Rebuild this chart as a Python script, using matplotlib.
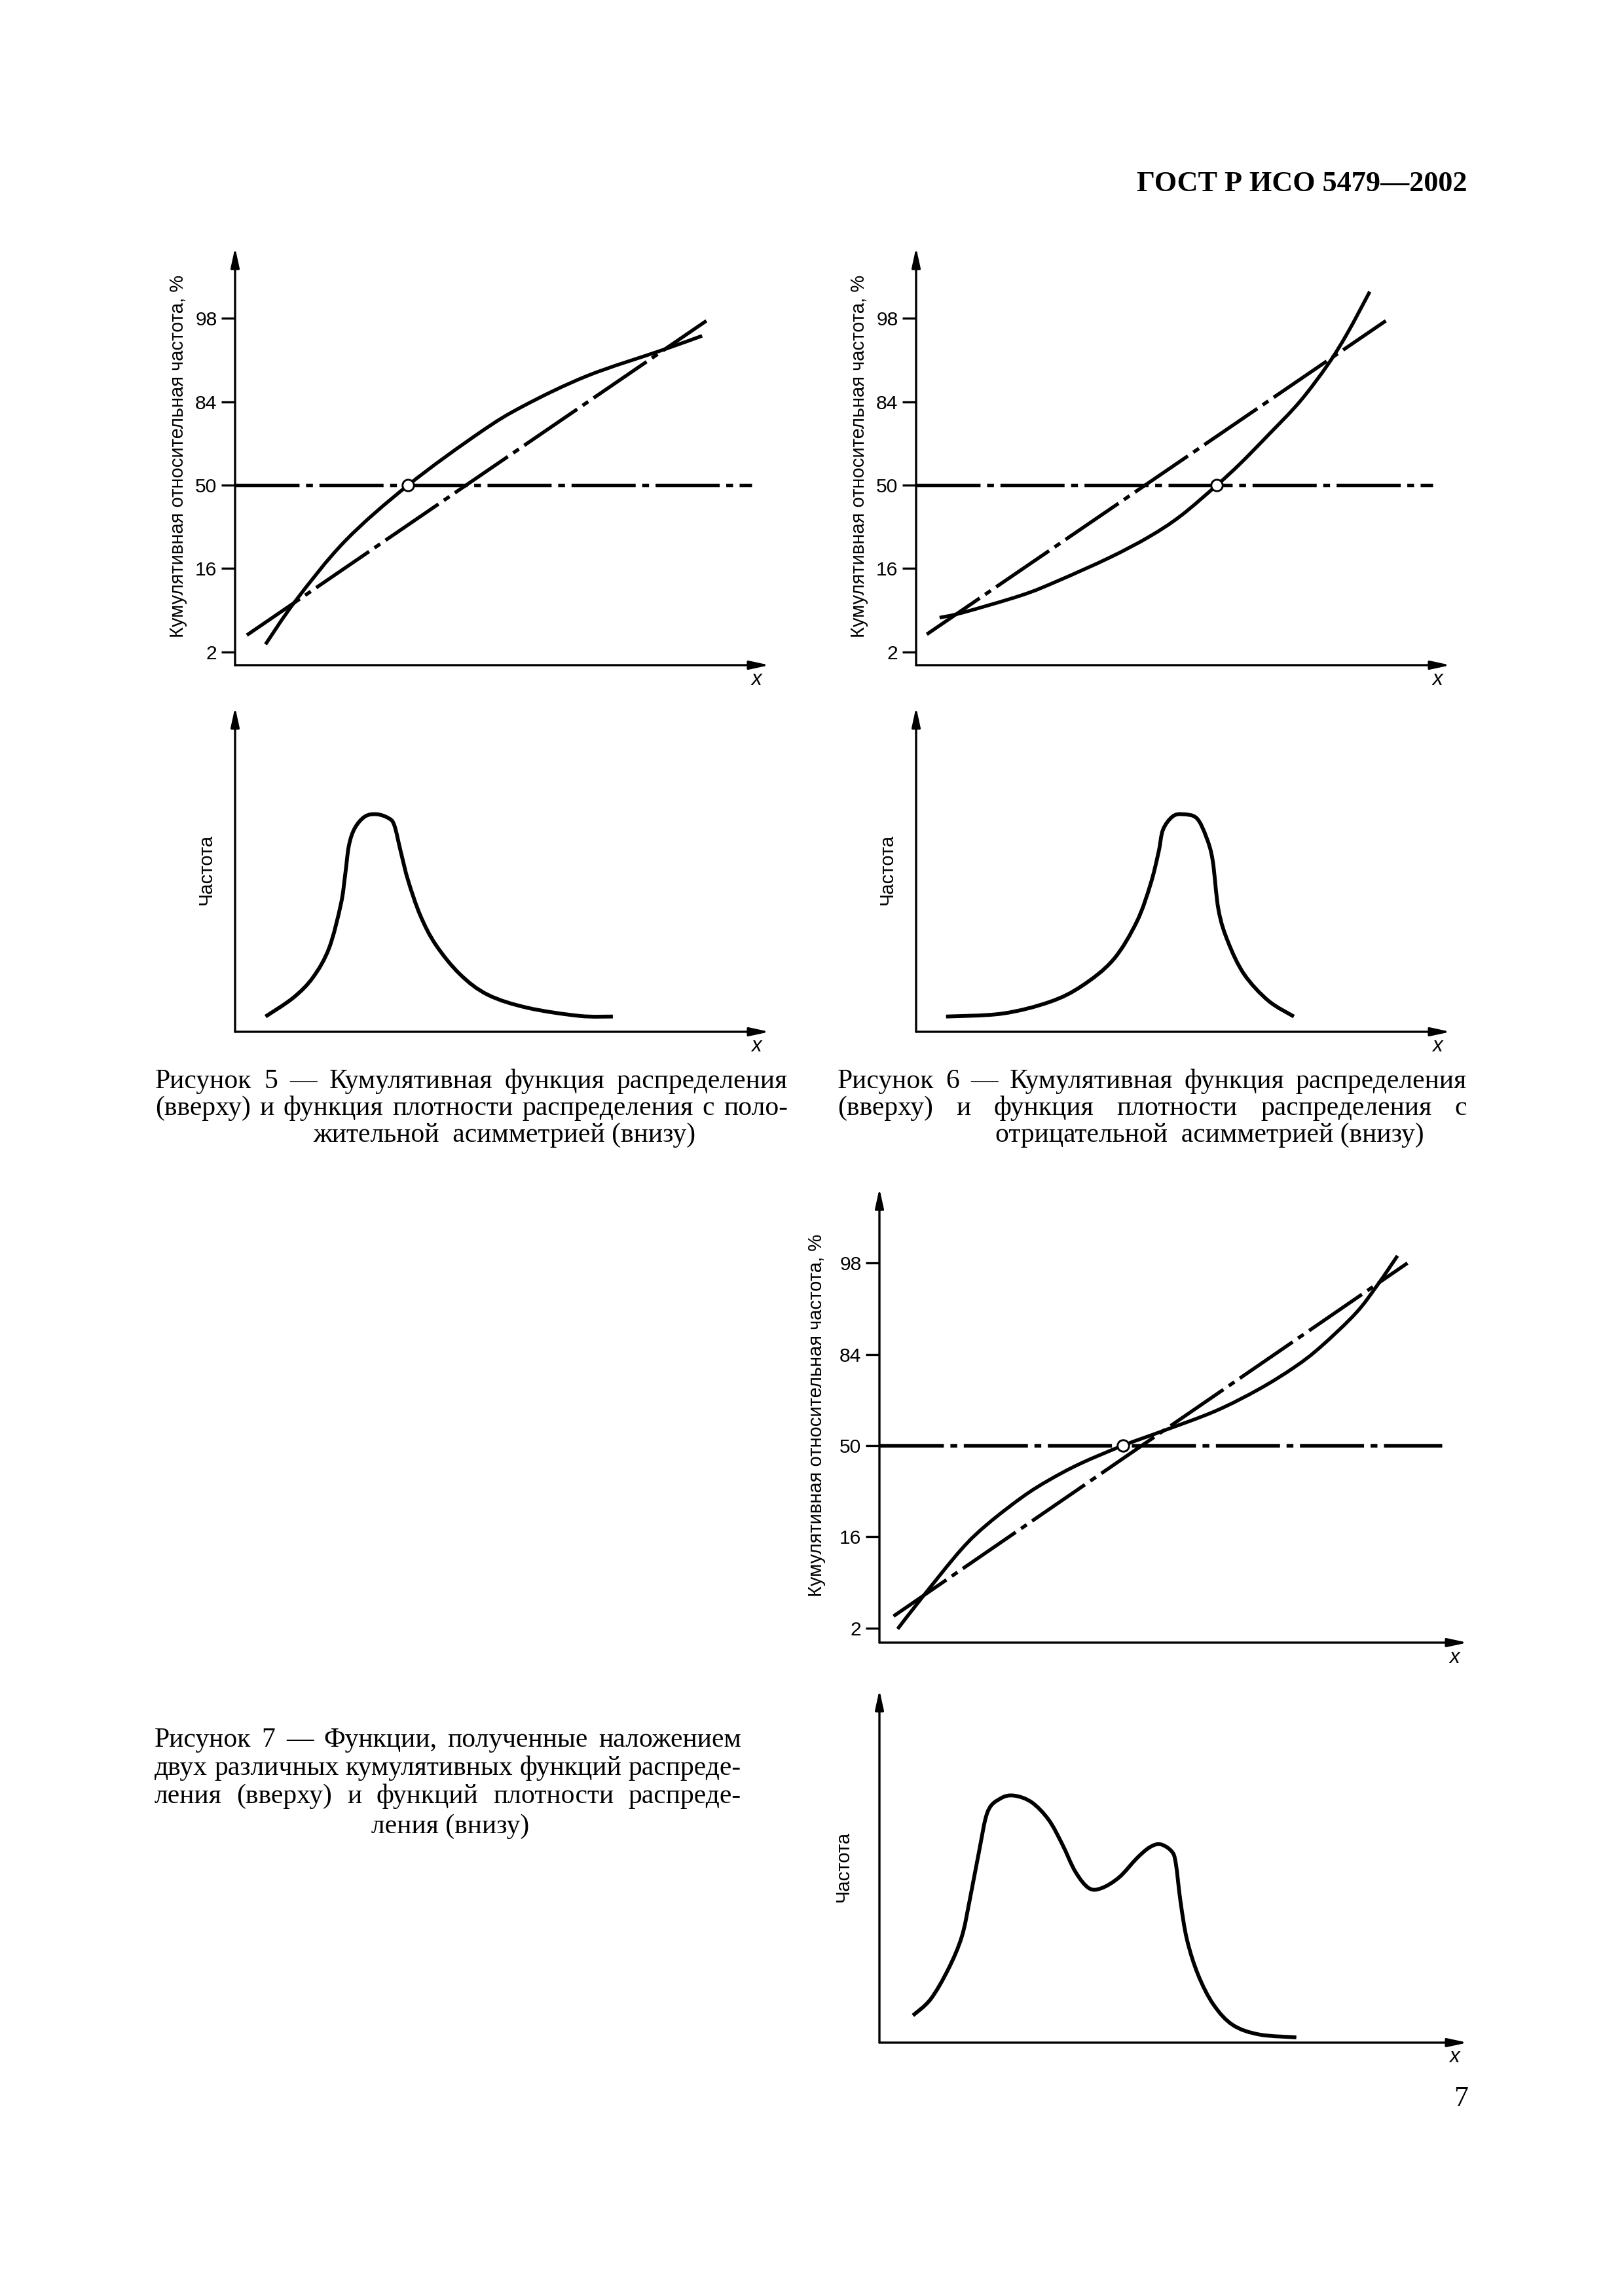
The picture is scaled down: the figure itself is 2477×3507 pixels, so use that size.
"""Page 7 of GOST R ISO 5479-2002: figures 5, 6 and 7 (cumulative and density curves)"""

import numpy as np
import matplotlib
matplotlib.use('Agg')
from matplotlib import pyplot as plt
from matplotlib.path import Path
from matplotlib.patches import PathPatch

plt.rcParams['font.family'] = ['Liberation Sans', 'DejaVu Sans']
plt.rcParams['lines.scale_dashes'] = False

W_PX, H_PX, DPI = 2477, 3507, 300

# probability scale of the cumulative plots (normal quantiles) and its labels
prob_ticks = [-2, -1, 0, 1, 2]
prob_labels = ['2', '16', '50', '84', '98']

# Figure 5, top: cumulative curve with positive skew
fig5_cdf_x = [5.7, 11.3, 20.6, 32.4, 45.8, 54.0, 65.9, 80.0, 87.4]
fig5_cdf_z = [-1.91, -1.39, -0.67, 0.0, 0.63, 0.95, 1.31, 1.62, 1.79]
fig5_line_x = [2.2, 88.2]
fig5_line_z = [-1.80, 1.97]
fig5_median_x = 32.4

# Figure 6, top: cumulative curve with negative skew
fig6_cdf_x = [4.4, 8.7, 19.8, 26.5, 36.2, 43.6, 49.5, 56.3, 60.7, 65.9, 71.8, 77.0, 80.7, 84.9]
fig6_cdf_z = [-1.59, -1.53, -1.32, -1.15, -0.87, -0.62, -0.37, 0.0, 0.26, 0.60, 1.00, 1.44, 1.82, 2.32]
fig6_line_x = [2.0, 87.9]
fig6_line_z = [-1.79, 1.97]
fig6_median_x = 56.3

# Figure 7, top: superposition of two cumulative curves
fig7_cdf_x = [3.1, 7.2, 13.9, 18.4, 24.4, 28.8, 34.1, 41.4, 48.2, 57.2, 64.6, 70.6, 75.0, 81.0, 84.7, 88.1]
fig7_cdf_z = [-2.01, -1.67, -1.14, -0.86, -0.56, -0.38, -0.20, 0.0, 0.16, 0.38, 0.62, 0.86, 1.08, 1.45, 1.76, 2.08]
fig7_line_x = [2.4, 89.8]
fig7_line_z = [-1.87, 2.00]
fig7_median_x = 41.4

# density curves (frequency, arbitrary units)
fig5_pdf_x = [5.7, 10.9, 14.6, 17.6, 19.8, 20.6, 21.3, 22.4, 24.3, 26.5, 28.7, 29.8, 31.0,
              32.4, 34.7, 37.6, 42.1, 47.3, 54.7, 64.4, 70.7]
fig5_pdf_y = [4.7, 10.5, 16.8, 25.8, 39.3, 48.3, 57.3, 62.7, 66.3, 67.0, 65.8, 63.6, 55.5,
              46.5, 35.7, 26.7, 17.7, 11.4, 7.4, 4.9, 4.7]

fig6_pdf_x = [5.6, 16.1, 25.0, 31.0, 36.9, 41.3, 43.9, 45.4, 46.2, 48.0, 49.9, 52.5, 54.3,
              55.5, 56.6, 58.4, 61.4, 65.9, 70.7]
fig6_pdf_y = [4.7, 5.6, 9.2, 14.1, 22.2, 33.9, 45.6, 55.5, 62.2, 66.3, 67.0, 65.8, 60.0,
              52.8, 37.5, 27.6, 17.7, 9.6, 4.7]

fig7_pdf_x = [5.7, 8.7, 11.7, 14.0, 15.4, 16.9, 18.4, 20.6, 22.9, 25.9, 28.8, 31.1, 33.3,
              35.6, 37.8, 40.8, 43.8, 46.0, 47.8, 49.7, 50.4, 51.2, 52.3, 54.2, 56.8,
              60.1, 64.6, 70.9]
fig7_pdf_y = [7.7, 12.3, 20.8, 30.0, 40.8, 53.8, 65.4, 69.2, 70.0, 68.1, 63.1, 56.2, 48.5,
              43.8, 43.8, 46.9, 52.3, 55.4, 56.2, 54.2, 50.8, 40.0, 29.2, 19.2, 10.8,
              5.0, 2.3, 1.5]

cdf_label = 'Кумулятивная относительная частота, %'
pdf_label = 'Частота'

caption5 = ['Рисунок 5 — Кумулятивная функция распределения',
            '(вверху) и функция плотности распределения с поло-',
            'жительной  асимметрией (внизу)']
caption6 = ['Рисунок 6 — Кумулятивная функция распределения',
            '(вверху) и функция плотности распределения с',
            'отрицательной  асимметрией (внизу)']
caption7 = ['Рисунок 7 — Функции, полученные наложением',
            'двух различных кумулятивных функций распреде-',
            'ления (вверху) и функций плотности распреде-',
            'ления (внизу)']

AXIS_LW = 0.8
CURVE_LW = 1.3
DASHDOT = (0, (23.5, 2.4, 2.5, 2.4))
SERIF = ['Liberation Serif', 'DejaVu Serif']
LABEL_SIZE = 7.0


def add_axes_px(fig, left, top, right, bottom):
    return fig.add_axes([left / W_PX, 1 - bottom / H_PX,
                         (right - left) / W_PX, (bottom - top) / H_PX])


def smooth_path(x, y):
    """Smooth path through the read points (Catmull-Rom drawn as cubic Beziers)"""
    pts = np.column_stack([x, y]).astype(float)
    verts, codes = [pts[0]], [Path.MOVETO]
    n = len(pts)
    for i in range(n - 1):
        p0 = pts[max(i - 1, 0)]
        p1, p2 = pts[i], pts[i + 1]
        p3 = pts[min(i + 2, n - 1)]
        verts += [p1 + (p2 - p0) / 6, p2 - (p3 - p1) / 6, p2]
        codes += [Path.CURVE4] * 3
    return Path(verts, codes)


def draw_curve(ax, x, y, lw=CURVE_LW):
    ax.add_patch(PathPatch(smooth_path(x, y), fill=False, lw=lw, ec='k',
                           capstyle='butt', joinstyle='round'))


def setup_axes(ax, ylim, ylabel, label_x, ticks=None, labels=None):
    ax.set_xlim(0, 100)
    ax.set_ylim(*ylim)
    ax.patch.set_visible(False)
    for s in ax.spines.values():
        s.set_visible(False)
    ax.set_xticks([])
    if ticks is not None:
        ax.set_yticks(ticks, labels)
        ax.tick_params(axis='y', length=5.0, width=AXIS_LW, pad=1.6,
                       labelsize=7.2, direction='out')
    else:
        ax.set_yticks([])
    arrow = dict(arrowstyle='-|>,head_length=0.6,head_width=0.13', mutation_scale=10,
                 lw=AXIS_LW, color='k', shrinkA=0, shrinkB=0)
    ax.annotate('', xy=(1, 0), xytext=(0, 0), xycoords='axes fraction',
                arrowprops=arrow, annotation_clip=False)
    ax.annotate('', xy=(0, 1), xytext=(0, 0), xycoords='axes fraction',
                arrowprops=arrow, annotation_clip=False)
    ax.annotate('x', xy=(1, 0), xycoords='axes fraction', xytext=(-4.7, -5.4),
                textcoords='offset points', ha='center', va='center',
                fontsize=7.5, style='italic')
    ax.text(label_x, 0.5, ylabel, transform=ax.transAxes, rotation=90,
            ha='center', va='center', fontsize=LABEL_SIZE)


def plot_cdf(ax, cx, cz, lx, lz, median_x, line_end, label_x, ylim=(-2.16, 2.85)):
    setup_axes(ax, ylim, cdf_label, label_x, prob_ticks, prob_labels)
    ax.plot([0, line_end], [0, 0], color='k', lw=CURVE_LW, linestyle=DASHDOT,
            dash_capstyle='butt')
    ax.plot(lx, lz, color='k', lw=CURVE_LW, linestyle=DASHDOT, dash_capstyle='butt')
    draw_curve(ax, cx, cz)
    ax.plot([median_x], [0], 'o', ms=4.2, mfc='white', mec='k', mew=0.7, zorder=5)


def plot_pdf(ax, px, py, label_x):
    setup_axes(ax, (0, 100), pdf_label, label_x)
    draw_curve(ax, px, py, lw=1.4)


def caption_size(fig, renderer, lines, max_size=11.0, min_gap_em=0.25):
    """Largest font size at which every justified caption line keeps normal spaces"""
    size = max_size
    for text, x0, x1 in lines:
        words = text.split()
        probe = [fig.text(0, 0, w, family=SERIF, fontsize=10) for w in words]
        k = sum(t.get_window_extent(renderer).width for t in probe) / 10
        for t in probe:
            t.remove()
        em_px = DPI / 72
        size = min(size, (x1 - x0) / (k + (len(words) - 1) * min_gap_em * em_px))
    return size


def put_line(fig, renderer, text, y_px, x0_px, x1_px=None, size=10, align='justify'):
    """Writes one caption line; justified between x0 and x1, or centred on x0"""
    if align == 'center':
        fig.text(x0_px / W_PX, 1 - y_px / H_PX, text, ha='center', va='baseline',
                 family=SERIF, fontsize=size)
        return
    words = text.split()
    texts = [fig.text(0, 1 - y_px / H_PX, w, ha='left', va='baseline',
                      family=SERIF, fontsize=size) for w in words]
    widths = [t.get_window_extent(renderer).width for t in texts]
    gap = ((x1_px - x0_px) - sum(widths)) / (len(words) - 1)
    x = x0_px
    for t, w in zip(texts, widths):
        t.set_x(x / W_PX)
        x += w + gap


fig = plt.figure(figsize=(W_PX / DPI, H_PX / DPI), dpi=DPI)
renderer = fig.canvas.get_renderer()

ax1 = add_axes_px(fig, 359, 378, 1175, 1016)
plot_cdf(ax1, fig5_cdf_x, fig5_cdf_z, fig5_line_x, fig5_line_z, fig5_median_x, 96.7, -0.1066)
ax2 = add_axes_px(fig, 1399, 378, 2215, 1016)
plot_cdf(ax2, fig6_cdf_x, fig6_cdf_z, fig6_line_x, fig6_line_z, fig6_median_x, 96.7, -0.1066)
ax3 = add_axes_px(fig, 359, 1080, 1175, 1576)
plot_pdf(ax3, fig5_pdf_x, fig5_pdf_y, -0.054)
ax4 = add_axes_px(fig, 1399, 1080, 2215, 1576)
plot_pdf(ax4, fig6_pdf_x, fig6_pdf_y, -0.054)
ax5 = add_axes_px(fig, 1343, 1815, 2241, 2509)
plot_cdf(ax5, fig7_cdf_x, fig7_cdf_z, fig7_line_x, fig7_line_z, fig7_median_x, 95.7, -0.1064,
         ylim=(-2.16, 2.82))
ax6 = add_axes_px(fig, 1343, 2581, 2241, 3120)
plot_pdf(ax6, fig7_pdf_x, fig7_pdf_y, -0.062)

# captions
justified = [(caption5[0], 237, 1203), (caption5[1], 237, 1203),
             (caption6[0], 1279, 2240), (caption6[1], 1279, 2240),
             (caption7[0], 236, 1132), (caption7[1], 236, 1132), (caption7[2], 236, 1132)]
csize = caption_size(fig, renderer, justified)

put_line(fig, renderer, caption5[0], 1662, 237, 1203, csize)
put_line(fig, renderer, caption5[1], 1703, 237, 1203, csize)
put_line(fig, renderer, caption5[2], 1744, 770, size=csize, align='center')
put_line(fig, renderer, caption6[0], 1662, 1279, 2240, csize)
put_line(fig, renderer, caption6[1], 1703, 1279, 2240, csize)
put_line(fig, renderer, caption6[2], 1744, 1847, size=csize, align='center')
put_line(fig, renderer, caption7[0], 2668, 236, 1132, csize)
put_line(fig, renderer, caption7[1], 2711, 236, 1132, csize)
put_line(fig, renderer, caption7[2], 2754, 236, 1132, csize)
put_line(fig, renderer, caption7[3], 2800, 688, size=csize, align='center')

fig.text(2241 / W_PX, 1 - 292 / H_PX, 'ГОСТ Р ИСО 5479—2002', ha='right', va='baseline',
         family=SERIF, fontsize=10.6, weight='bold')
fig.text(2242 / W_PX, 1 - 3217 / H_PX, '7', ha='right', va='baseline',
         family=SERIF, fontsize=10.5)

fig.savefig('out.png', dpi=DPI, facecolor='white')
